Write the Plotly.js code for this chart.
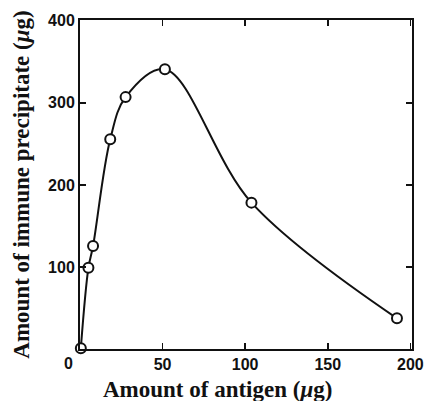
<!DOCTYPE html>
<html>
<head>
<meta charset="utf-8">
<script src="https://cdn.plot.ly/plotly-3.0.1.min.js"></script>
<style>html,body{margin:0;padding:0;background:#fff;}#chart{width:426px;height:401px;}</style>
</head>
<body>
<div id="chart"></div>
<script>
const antigen = [0.5, 5.1, 7.9, 18.3, 27.6, 51.4, 103.8, 191.9];
const precipitate = [1, 99, 125.6, 255.7, 307, 341, 178.4, 37.4];
const xTicks = [0, 50, 100, 150, 200];
const yTicks = [100, 200, 300, 400];
const xTitle = 'Amount of antigen (<i>μ</i>g)';
const yTitle = 'Amount of immune precipitate (<i>μ</i>g)';

const tickFont = {family: 'Liberation Sans, Arial, sans-serif', size: 16, color: '#111', weight: 'bold'};
const titleFont = {family: 'Liberation Serif, Times New Roman, serif', size: 23, color: '#111', weight: 'bold'};

const trace = {
  x: antigen, y: precipitate, type: 'scatter', mode: 'lines+markers',
  line: {shape: 'spline', smoothing: 1, color: '#111', width: 2},
  marker: {symbol: 'circle', size: 10, color: '#fff', line: {color: '#111', width: 2}},
  cliponaxis: false, hoverinfo: 'skip'
};

const layout = {
  width: 426, height: 401,
  margin: {l: 80, r: 14, t: 20, b: 52},
  paper_bgcolor: '#fff', plot_bgcolor: '#fff',
  showlegend: false,
  xaxis: {
    range: [0, 201], tickvals: xTicks, ticktext: xTicks.map(v => v === 0 ? '' : String(v)),
    ticks: 'inside', ticklen: 6, tickwidth: 1.5, tickcolor: '#111',
    showline: true, linecolor: '#111', linewidth: 2, mirror: 'ticks',
    showgrid: false, zeroline: false, tickfont: tickFont
  },
  yaxis: {
    range: [0, 401], tickvals: yTicks, ticktext: yTicks.map(String),
    ticks: 'inside', ticklen: 6, tickwidth: 1.5, tickcolor: '#111',
    showline: true, linecolor: '#111', linewidth: 2, mirror: 'ticks',
    showgrid: false, zeroline: false, tickfont: tickFont,
    title: {text: yTitle, font: titleFont, standoff: 12}
  },
  annotations: [
    {text: xTitle, xref: 'paper', yref: 'paper', x: 0.4127, y: 0, xanchor: 'center', yanchor: 'top',
     yshift: -26, showarrow: false, font: titleFont},
    {text: String(xTicks[0]), xref: 'paper', yref: 'paper', x: 0, y: 0, xanchor: 'center', yanchor: 'top',
     xshift: -12, yshift: -4, showarrow: false, font: tickFont}
  ]
};

Plotly.newPlot('chart', [trace], layout, {displayModeBar: false, staticPlot: true});
</script>
</body>
</html>
